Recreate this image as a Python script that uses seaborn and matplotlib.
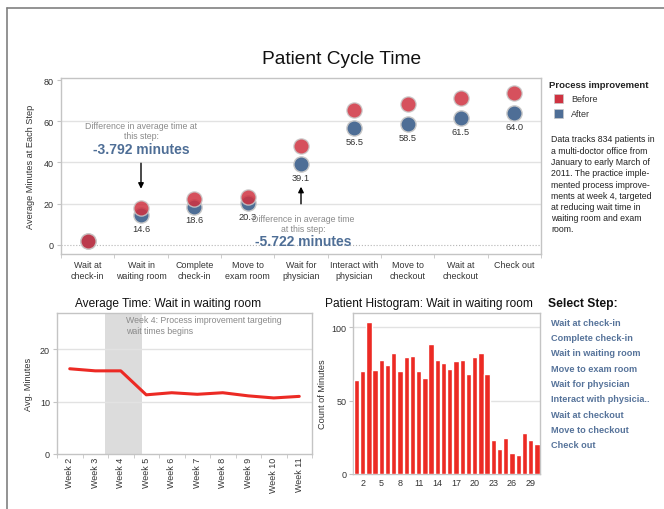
import matplotlib
matplotlib.use("Agg")
import matplotlib.pyplot as plt
from matplotlib.patches import Rectangle
from matplotlib.lines import Line2D
import seaborn as sns
import pandas as pd
import numpy as np

# step data (cumulative average minutes)
steps = ["Wait at check-in", "Wait in waiting room", "Complete check-in", "Move to exam room",
         "Wait for physician", "Interact with physician", "Move to checkout", "Wait at checkout", "Check out"]
step_labels = ["Wait at\ncheck-in", "Wait in\nwaiting room", "Complete\ncheck-in", "Move to\nexam room",
               "Wait for\nphysician", "Interact with\nphysician", "Move to\ncheckout", "Wait at\ncheckout", "Check out"]
before = [2.0, 18.0, 22.3, 23.4, 48.2, 65.7, 68.3, 71.2, 73.6]
after = [2.0, 14.6, 18.6, 20.3, 39.1, 56.5, 58.5, 61.5, 64.0]

weeks = ["Week 2", "Week 3", "Week 4", "Week 5", "Week 6", "Week 7", "Week 8", "Week 9", "Week 10", "Week 11"]
week_avg = [16.3, 15.9, 15.9, 11.3, 11.7, 11.4, 11.7, 11.1, 10.7, 11.0]

minutes = list(range(1, 31))
counts = [64, 70, 104, 71, 78, 74.5, 82.7, 70, 80, 80.7, 70, 65.7, 88.9, 77.5, 75.9,
          71.8, 77.3, 78, 68.4, 80, 82.7, 68.4, 23.4, 17.3, 24.8, 14.1, 13.2, 28.2, 23.4, 20.2]

select_steps = ["Wait at check-in", "Complete check-in", "Wait in waiting room", "Move to exam room",
                "Wait for physician", "Interact with physicia..", "Wait at checkout", "Move to checkout", "Check out"]

desc = ["Data tracks 834 patients in", "a multi-doctor office from", "January to early March of",
        "2011. The practice imple-", "mented process improve-", "ments at week 4, targeted",
        "at reducing wait time in", "waiting room and exam", "room."]

RED = "#cf3240"
BLUE = "#4e6e96"
BRIGHT = "#ec2a24"
GRID = "#e2e2e2"
FRAME = "#c4c4c4"
TXT = "#333333"

sns.set_style("white")
plt.rcParams["font.family"] = ["Liberation Sans", "DejaVu Sans"]

W, H = 664, 510
fig = plt.figure(figsize=(6.64, 5.10), dpi=100)


def fx(px):
    return px / W


def fy(py):
    return 1 - py / H


def style_frame(ax):
    for s in ax.spines.values():
        s.set_color(FRAME)
        s.set_linewidth(1)


# ---------- top chart ----------
ax1 = fig.add_axes([fx(61), fy(255), 480 / W, 176 / H])
df_top = pd.DataFrame({"step": steps, "before": before, "after": after})
sns.scatterplot(data=df_top, x="step", y="after", color=BLUE, s=120, edgecolor="#c8c8c8",
                linewidth=1, ax=ax1, legend=False, zorder=3)
sns.scatterplot(data=df_top, x="step", y="before", color=RED, s=120, edgecolor="#c8c8c8",
                linewidth=1, alpha=0.85, ax=ax1, legend=False, zorder=4)
ax1.set_xlim(-0.5, 8.5)
ax1.set_ylim(-4.4, 81)
for g in [20, 40, 60]:
    ax1.axhline(g, color=GRID, lw=1, zorder=0)
ax1.axhline(0, color="#b5b5b5", lw=0.8, ls=":", zorder=0)
ax1.set_yticks([0, 20, 40, 60, 80])
ax1.set_xticks(range(9))
ax1.set_xticklabels(step_labels)
ax1.set_xticks(np.arange(-0.5, 9, 1), minor=True)
ax1.tick_params(axis="x", which="major", length=0, pad=4.5, labelsize=6.4, colors=TXT)
ax1.tick_params(axis="x", which="minor", length=3, color=FRAME, bottom=True)
ax1.tick_params(axis="y", length=3, color=FRAME, pad=2, labelsize=6.5, colors=TXT, left=True)
ax1.set_xlabel("")
ax1.set_ylabel("Average Minutes at Each Step", fontsize=6.6, color=TXT)
ax1.yaxis.set_label_coords(-0.054, 0.5)
style_frame(ax1)

for i in range(1, 9):
    ax1.annotate(f"{after[i]:.1f}", (i, after[i]), xytext=(0, -9.5), textcoords="offset points",
                 ha="center", va="center", fontsize=6.7, color=TXT, zorder=5)

ax1.text(1, 55.6, "Difference in average time at\nthis step:", ha="center", va="center",
         fontsize=6.3, color="#8a8a8a", linespacing=1.15, zorder=6)
ax1.text(1, 46.6, "-3.792 minutes", ha="center", va="center", fontsize=10,
         fontweight="bold", color=BLUE, zorder=6)
ax1.annotate("", xy=(1, 25.9), xytext=(1, 41),
             arrowprops=dict(arrowstyle="-|>", color="black", lw=1, mutation_scale=8))

ax1.text(4.05, 10.6, "Difference in average time\nat this step:", ha="center", va="center",
         fontsize=6.3, color="#8a8a8a", linespacing=1.15, zorder=6)
ax1.text(4.05, 1.9, "-5.722 minutes", ha="center", va="center", fontsize=10,
         fontweight="bold", color=BLUE, zorder=6)
ax1.annotate("", xy=(4, 29.6), xytext=(4, 18.6),
             arrowprops=dict(arrowstyle="-|>", color="black", lw=1, mutation_scale=8))

fig.text(fx(341.7), fy(59), "Patient Cycle Time", ha="center", va="center", fontsize=13.8, color="#111111")

# legend + description
fig.text(fx(549), fy(85.7), "Process improvement", ha="left", va="center", fontsize=6.8,
         fontweight="bold", color="#222222")
fig.add_artist(Rectangle((fx(553.5), fy(104)), 9 / W, 8.5 / H, transform=fig.transFigure,
                         facecolor=RED, edgecolor="#c8c8c8", lw=0.5))
fig.add_artist(Rectangle((fx(553.5), fy(118.7)), 9 / W, 8.5 / H, transform=fig.transFigure,
                         facecolor=BLUE, edgecolor="#c8c8c8", lw=0.5))
fig.text(fx(571), fy(99.3), "Before", ha="left", va="center", fontsize=6.5, color=TXT)
fig.text(fx(571), fy(114.3), "After", ha="left", va="center", fontsize=6.5, color=TXT)
for k, line in enumerate(desc):
    fig.text(fx(551), fy(140 + k * 11.25), line, ha="left", va="center", fontsize=6.3, color="#222222")

# ---------- weekly line ----------
ax2 = fig.add_axes([fx(57), fy(454.7), 255 / W, 140.7 / H])
df_week = pd.DataFrame({"week": weeks, "avg": week_avg})
ax2.axvspan(1.38, 2.82, color="#dcdcdc", zorder=0, lw=0)
for g in [10, 20]:
    ax2.axhline(g, color=GRID, lw=1, zorder=0)
sns.lineplot(data=df_week, x="week", y="avg", sort=False, color=BRIGHT, lw=2.2, ax=ax2, zorder=3)
ax2.set_xlim(-0.5, 9.5)
ax2.set_ylim(0, 27)
ax2.set_yticks([0, 10, 20])
ax2.set_xticks(np.arange(-0.5, 10, 1), minor=True)
ax2.tick_params(axis="x", which="major", length=0, pad=2, labelsize=6.4, colors=TXT, labelrotation=90)
ax2.tick_params(axis="x", which="minor", length=3, color=FRAME, bottom=True)
ax2.tick_params(axis="y", length=3, color=FRAME, pad=2, labelsize=6.5, colors=TXT, left=True)
ax2.set_xlabel("")
ax2.set_ylabel("Avg. Minutes", fontsize=6.6, color=TXT)
ax2.yaxis.set_label_coords(-0.094, 0.5)
ax2.text(2.2, 26.6, "Week 4: Process improvement targeting\nwait times begins", ha="left", va="top",
         fontsize=6.3, color="#8a8a8a", linespacing=1.25)
style_frame(ax2)
fig.text(fx(168.3), fy(304), "Average Time: Wait in waiting room", ha="center", va="center",
         fontsize=8.6, color="#111111")

# ---------- histogram ----------
ax3 = fig.add_axes([fx(353.3), fy(475), 186.7 / W, 161 / H])
df_hist = pd.DataFrame({"minute": minutes, "count": counts})
for g in [50, 100]:
    ax3.axhline(g, color=GRID, lw=1, zorder=0)
sns.barplot(data=df_hist, x="minute", y="count", color=BRIGHT, saturation=1, width=0.85, ax=ax3, zorder=3)
ax3.set_xlim(-0.5, 29.5)
ax3.set_ylim(0, 109.8)
ax3.set_yticks([0, 50, 100])
ax3.set_xticks(range(1, 30, 3))
ax3.set_xticklabels([str(m) for m in minutes[1::3]])
ax3.tick_params(axis="x", length=0, pad=3, labelsize=6.5, colors=TXT)
ax3.tick_params(axis="y", length=3, color=FRAME, pad=2, labelsize=6.5, colors=TXT, left=True)
ax3.set_xlabel("")
ax3.set_ylabel("Count of Minutes", fontsize=6.6, color=TXT)
ax3.yaxis.set_label_coords(-0.142, 0.5)
style_frame(ax3)
fig.text(fx(429.2), fy(304), "Patient Histogram: Wait in waiting room", ha="center", va="center",
         fontsize=8.6, color="#111111")

# ---------- step selector ----------
fig.text(fx(548.3), fy(304), "Select Step:", ha="left", va="center", fontsize=8.7,
         fontweight="bold", color="#111111")
for k, s in enumerate(select_steps):
    fig.text(fx(551), fy(323.3 + k * 15.3), s, ha="left", va="center", fontsize=6.6,
             fontweight="bold", color="#56739a")

# dashboard border
fig.add_artist(Line2D([fx(7), 1], [fy(9), fy(9)], color="#808080", lw=1.2, transform=fig.transFigure))
fig.add_artist(Line2D([fx(7), fx(7)], [0, fy(9)], color="#808080", lw=1.2, transform=fig.transFigure))

fig.savefig("out.png", dpi=100)
